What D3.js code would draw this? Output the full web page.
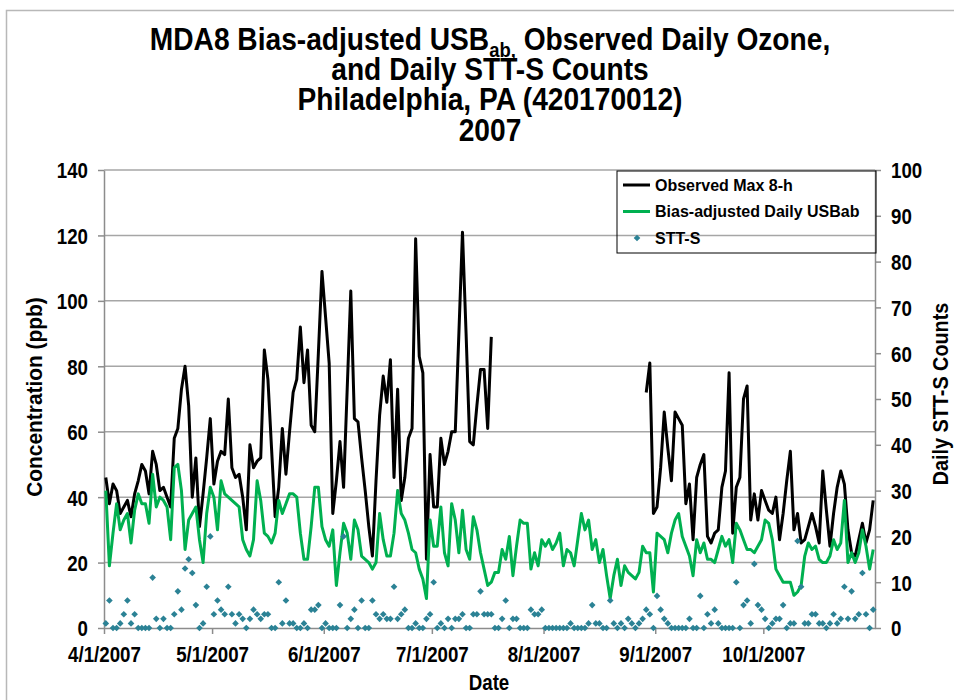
<!DOCTYPE html>
<html>
<head>
<meta charset="utf-8">
<script src="https://cdn.jsdelivr.net/npm/d3@7/dist/d3.min.js"></script>
<style>
  body { margin: 0; background: #fff; }
  .narrow { font-family: "Liberation Sans", Arial, sans-serif; font-weight: bold; }
  .legend { font-family: "Liberation Sans", Arial, sans-serif; font-weight: bold; font-size: 16px; }
</style>
</head>
<body>
<div id="chart"></div>
<script>
var svgWidth = 954;
var svgHeight = 700;
var margin = { top: 170, right: 79, bottom: 72, left: 104 };

var width = svgWidth - margin.left - margin.right;
var height = svgHeight - margin.top - margin.bottom;

// no narrow font installed, so squeeze bold text sideways
var squeeze = 0.85;

// Data, one value per day starting 4/1/2007
var startDate = "2007-04-01";
var endDate = "2007-11-01";
var tickDates = ["2007-04-01", "2007-05-01", "2007-06-01", "2007-07-01", "2007-08-01", "2007-09-01", "2007-10-01"];
var tickLabels = ["4/1/2007", "5/1/2007", "6/1/2007", "7/1/2007", "8/1/2007", "9/1/2007", "10/1/2007"];
var ppbTicks = [0, 20, 40, 60, 80, 100, 120, 140];
var countTicks = [0, 10, 20, 30, 40, 50, 60, 70, 80, 90, 100];

var observed = [46, 38, 44, 42, 35, 37, 39, 34, 41, 45, 50, 48, 41, 54, 50, 42, 43, 40, 37, 58, 61, 73, 80, 68, 40, 52, 31, 41, 52, 64,
  44, 51, 54, 53, 70, 49, 46, 47, 40, 30, 56, 49, 51, 52, 85, 76, 55, 34, 43, 61, 47, 60, 72, 76, 92, 75, 85, 62, 60, 84, 109,
  95, 81, 35, 45, 57, 43, 73, 103, 64, 63, 52, 42, 31, 22, 45, 65, 77, 69, 82, 46, 73, 39, 46, 58, 61, 119, 83, 78, 21, 53,
  37, 37, 58, 50, 54, 60, 60, 90, 121, 90, 57, 56, 68, 79, 79, 61, 89,
  null, null, null, null, null, null, null, null, null, null, null, null, null, null, null, null, null, null, null, null, null,
  null, null, null, null, null, null, null, null, null, null, null, null, null, null, null, null, null, null, null, null, null,
  72, 81, 35, 37, 49, 66, 55, 45, 66, 64, 62, 38, 44, 27, 46, 50, 53, 28, 26, 29, 30, 43, 48, 78, 29, 43, 46, 70, 74, 33,
  41, 33, 42, 39, 36, 35, 40, 27, 35, 45, 54, 30, 35, 26, 27, 31, 35, 31, 26, 48, 36, 25, 35, 43, 48, 44, 30, 23, 22, 27,
  32, 26, 30, 39];

var usbab = [42, 19, 29, 38, 30, 33, 35, 26, 36, 41, 38, 38, 32, 47, 37, 40, 39, 37, 27, 49, 50, 42, 24, 33, 35, 37, 27, 20, 35, 43,
  40, 30, 45, 41, 40, 39, 38, 37, 27, 24, 22, 27, 45, 39, 29, 28, 26, 29, 39, 35, 38, 41, 41, 40, 29, 21, 21, 31, 43, 43, 31,
  27, 25, 30, 13, 23, 32, 29, 21, 33, 30, 22, 21, 20, 18, 20, 35, 27, 22, 22, 29, 42, 35, 33, 29, 24, 23, 18, 15, 9, 33,
  25, 25, 37, 23, 19, 38, 33, 23, 36, 24, 21, 34, 30, 23, 18, 13, 14, 17, 17, 24, 21, 28, 16, 25, 33, 32, 32, 18, 23, 19, 27,
  25, 27, 24, 26, 29, 19, 24, 23, 19, 27, 35, 30, 33, 24, 27, 20, 24, 16, 9, 16, 21, 13, 19, 17, 16, 15, 17, 25, 23, 23, 11,
  29, 28, 27, 23, 29, 33, 35, 28, 25, 22, 16, 27, 23, 26, 21, 21, 20, 24, 28, 25, 27, 20, 32, 30, 27, 24, 24, 23, 25, 27, 33,
  32, 27, 18, 16, 14, 14, 14, 10, 11, 13, 22, 26, 24, 25, 21, 20, 20, 22, 27, 24, 26, 39, 20, 23, 20, 23, 30, 25, 18, 24];

var sttCounts = [1, 6, 0, 0, 1, 3, 6, 1, 3, 0, 0, 0, 0, 11, 2, 0, 2, 0, 0, 3, 8, 4, 13, 15, 12, 5, 0, 1, 9, 20, 3, 6, 4, 3, 9,
  3, 1, 3, 2, 0, 2, 4, 3, 2, 3, 3, 0, 0, 10, 1, 6, 1, 1, 0, 0, 1, 0, 4, 4, 5, 0, 1, 0, 0, 0, 5, 20, 0, 2, 4, 0,
  6, 0, 0, 6, 3, 2, 3, 2, 2, 9, 2, 3, 4, 0, 0, 1, 0, 0, 2, 3, 10, 0, 1, 0, 2, 0, 2, 2, 3, 0, 0, 3, 3, 8, 3, 3,
  3, 0, 0, 2, 6, 0, 2, 2, 0, 0, 0, 4, 3, 3, 4, 0, 0, 0, 0, 0, 0, 0, 1, 0, 0, 0, 0, 1, 5, 1, 1, 0, 0, 6, 1, 0, 1, 0, 2,
  1, 0, 1, 2, 4, 3, 0, 7, 4, 2, 1, 0, 0, 0, 0, 0, 2, 0, 0, 7, 0, 3, 1, 4, 1, 0, 0, 0, 0, 10, 0, 5, 6, 1, 14, 5, 4,
  2, 0, 1, 2, 2, 5, 0, 1, 1, 19, 9, 1, 1, 3, 3, 1, 1, 0, 1, 3, 1, 2, 9, 2, 8, 2, 3, 12, 3, 0, 4];

var parseDate = d3.timeParse("%Y-%m-%d");
var day0 = parseDate(startDate);

// each value sits at noon of its day
function dayOf(i) {
  return d3.timeHour.offset(d3.timeDay.offset(day0, i), 12);
}

var svg = d3.select("#chart")
  .append("svg")
  .attr("width", svgWidth)
  .attr("height", svgHeight);

// light frame around the picture
svg.append("rect")
  .attr("x", 6.5)
  .attr("y", 10.5)
  .attr("width", svgWidth + 10)
  .attr("height", svgHeight + 10)
  .attr("fill", "none")
  .attr("stroke", "#b8b8b8")
  .attr("stroke-width", 1.5);

// Title
var titleGroup = svg.append("g")
  .attr("transform", `translate(490, 0) scale(0.88, 1)`);

var title = titleGroup.append("text")
  .attr("class", "narrow")
  .attr("x", 0)
  .attr("y", 50)
  .attr("text-anchor", "middle")
  .style("font-size", "32px");
title.append("tspan").text("MDA8 Bias-adjusted USB");
title.append("tspan").attr("dy", 7).style("font-size", "21px").text("ab,");
title.append("tspan").attr("dy", -7).text(" Observed Daily Ozone,");

var titleLines = ["and Daily STT-S Counts", "Philadelphia, PA (420170012)", "2007"];
titleGroup.selectAll(".titleLine")
  .data(titleLines)
  .enter()
  .append("text")
  .attr("class", "narrow titleLine")
  .attr("x", 0)
  .attr("y", (d, i) => 80 + i * 30.5)
  .attr("text-anchor", "middle")
  .style("font-size", "32px")
  .text(d => d);

var chartGroup = svg.append("g")
  .attr("transform", `translate(${margin.left}, ${margin.top})`);

// Scales
var xTimeScale = d3.scaleTime()
  .domain([day0, parseDate(endDate)])
  .range([0, width]);

var yLinearScale = d3.scaleLinear()
  .domain([0, 140])
  .range([height, 0]);

var yCountScale = d3.scaleLinear()
  .domain([0, 100])
  .range([height, 0]);

// Gridlines
chartGroup.selectAll(".grid")
  .data(ppbTicks.slice(1))
  .enter()
  .append("line")
  .attr("x1", 0)
  .attr("x2", width)
  .attr("y1", d => yLinearScale(d))
  .attr("y2", d => yLinearScale(d))
  .attr("stroke", "#a6a6a6")
  .attr("stroke-width", 1.5);

// Axes
var bottomAxis = d3.axisBottom(xTimeScale)
  .tickValues(tickDates.map(parseDate))
  .tickFormat((d, i) => tickLabels[i])
  .tickSize(6)
  .tickSizeOuter(0);
var leftAxis = d3.axisLeft(yLinearScale)
  .tickValues(ppbTicks)
  .tickSize(6)
  .tickSizeOuter(0);
var rightAxis = d3.axisRight(yCountScale)
  .tickValues(countTicks)
  .tickSize(6)
  .tickSizeOuter(0);

var xAxisGroup = chartGroup.append("g")
  .attr("transform", `translate(0, ${height})`)
  .call(bottomAxis);
var leftAxisGroup = chartGroup.append("g")
  .call(leftAxis);
var rightAxisGroup = chartGroup.append("g")
  .attr("transform", `translate(${width}, 0)`)
  .call(rightAxis);

[xAxisGroup, leftAxisGroup, rightAxisGroup].forEach(function (g) {
  g.select(".domain").attr("stroke", "#8c8c8c").attr("stroke-width", 1.5);
  g.selectAll(".tick line").attr("stroke", "#8c8c8c").attr("stroke-width", 1.5);
  g.selectAll(".tick text")
    .attr("class", "narrow")
    .attr("transform", `scale(${squeeze}, 1)`)
    .style("font-size", "22px")
    .attr("fill", "#000");
});
xAxisGroup.selectAll(".tick text").attr("dy", "1.15em");
leftAxisGroup.selectAll(".tick text").attr("x", -16 / squeeze).attr("dy", "0.36em");
rightAxisGroup.selectAll(".tick text").attr("x", 16 / squeeze).attr("dy", "0.36em");

// Lines
var obsData = observed.map((v, i) => ({ date: dayOf(i), value: v }));
var usbData = usbab.map((v, i) => ({ date: dayOf(i), value: v }));
var sttData = sttCounts.map((v, i) => ({ date: dayOf(i), value: v }));

var lineGen = d3.line()
  .defined(d => d.value != null)
  .x(d => xTimeScale(d.date))
  .y(d => yLinearScale(d.value));

chartGroup.append("path")
  .datum(obsData)
  .attr("d", lineGen)
  .attr("fill", "none")
  .attr("stroke", "#000")
  .attr("stroke-width", 3)
  .attr("stroke-linejoin", "round");

chartGroup.append("path")
  .datum(usbData)
  .attr("d", lineGen)
  .attr("fill", "none")
  .attr("stroke", "#00b050")
  .attr("stroke-width", 3)
  .attr("stroke-linejoin", "round");

// STT-S diamonds on the right axis
var diamond = d3.symbol().type(d3.symbolSquare).size(22);
chartGroup.selectAll(".stt")
  .data(sttData)
  .enter()
  .append("path")
  .attr("d", diamond)
  .attr("transform", d => `translate(${xTimeScale(d.date)}, ${yCountScale(d.value)}) rotate(45)`)
  .attr("fill", "#2b8295");

// Axis titles
chartGroup.append("text")
  .attr("class", "narrow")
  .attr("transform", `translate(${-62}, ${height / 2 - 2}) rotate(-90) scale(${squeeze + 0.1}, 1)`)
  .attr("text-anchor", "middle")
  .style("font-size", "22px")
  .text("Concentration (ppb)");

chartGroup.append("text")
  .attr("class", "narrow")
  .attr("transform", `translate(${width + 73}, ${height / 2 - 5}) rotate(-90) scale(${squeeze + 0.05}, 1)`)
  .attr("text-anchor", "middle")
  .style("font-size", "22px")
  .text("Daily STT-S Counts");

chartGroup.append("text")
  .attr("class", "narrow")
  .attr("transform", `translate(385, ${height + 62}) scale(${squeeze}, 1)`)
  .attr("text-anchor", "middle")
  .style("font-size", "22px")
  .text("Date");

// Legend
var legendItems = [
  { label: "Observed Max 8-h", type: "line", color: "#000" },
  { label: "Bias-adjusted Daily USBab", type: "line", color: "#00b050" },
  { label: "STT-S", type: "point", color: "#2b8295" }
];

var legend = chartGroup.append("g")
  .attr("transform", `translate(${513}, ${1})`);

legend.append("rect")
  .attr("width", 259)
  .attr("height", 82)
  .attr("fill", "none")
  .attr("stroke", "#000")
  .attr("stroke-width", 1);

var legendRow = legend.selectAll(".legendRow")
  .data(legendItems)
  .enter()
  .append("g")
  .attr("transform", (d, i) => `translate(0, ${14 + i * 26.5})`);

legendRow.filter(d => d.type == "line")
  .append("line")
  .attr("x1", 6)
  .attr("x2", 33)
  .attr("stroke", d => d.color)
  .attr("stroke-width", 3);

legendRow.filter(d => d.type == "point")
  .append("path")
  .attr("d", diamond)
  .attr("transform", "translate(20, 0) rotate(45)")
  .attr("fill", d => d.color);

legendRow.append("text")
  .attr("class", "legend")
  .attr("x", 38)
  .attr("dy", "0.36em")
  .text(d => d.label);
</script>
</body>
</html>
